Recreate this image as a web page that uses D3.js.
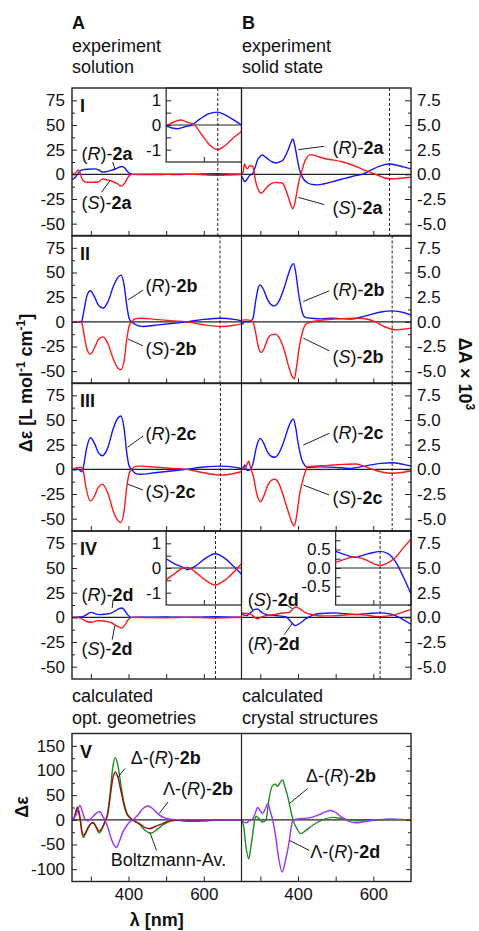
<!DOCTYPE html>
<html>
<head>
<meta charset="utf-8">
<script src="https://cdn.jsdelivr.net/npm/d3@7/dist/d3.min.js"></script>
<style>
body { margin: 0; background: #fff; }
svg text { font-family: "Liberation Sans", Arial, sans-serif; fill: #111; }
</style>
</head>
<body>
<svg id="chart" width="479" height="931"></svg>
<script>
//----------------------------- DATA -----------------------------//
// [wavelength nm, value]; column A = solution (Δε), column B = solid state (ΔA x 10^3)
const r1A = [[250,-5.4],[256,-4],[262,-1.5],[268,2],[274,4],[280,4.8],[292,5.2],[310,5.5],[322,4.2],[332,2.2],[342,2.8],[356,4.2],[370,6.2],[382,8],[390,6.5],[397,3],[403,1],[410,0],[440,-0.3],[480,-0.2],[500,-0.05],[515,-0.12],[531,-0.15],[548,-0.08],[568,0],[590,0.25],[612,0.45],[636,0.52],[655,0.42],[680,0.2],[700,0]];
const s1A = [[250,0],[258,1],[263,3],[267,4.5],[271,2],[275,-3],[280,-6.5],[288,-8],[300,-8],[318,-8],[326,-6],[332,-4.7],[342,-5.5],[356,-7],[370,-9.5],[381,-12],[390,-9],[397,-4],[403,-1],[410,0],[440,0.2],[480,0.1],[500,0],[520,0.12],[540,0.2],[558,0.1],[575,0],[595,-0.4],[615,-0.8],[636,-1.0],[655,-0.85],[680,-0.5],[700,-0.26]];
const r1B = [[250,-0.2],[253,-0.35],[258,-0.74],[263,-0.6],[268,-0.3],[274,-0.05],[280,0.1],[287,0.8],[293,1.5],[298,1.75],[305,1.96],[312,1.8],[322,1.5],[332,1.25],[342,1.15],[350,1.25],[359,1.4],[367,1.9],[375,2.6],[381,3.2],[386,3.58],[391,3.0],[397,1.8],[403,0.6],[408,0],[415,-0.5],[425,-0.85],[437,-1.02],[452,-1.07],[470,-0.95],[492,-0.74],[515,-0.5],[536,-0.3],[555,-0.1],[571,0],[590,0.35],[615,0.8],[642,1.05],[660,0.95],[680,0.75],[700,0.55]];
const s1B = [[250,0],[254,0.2],[258,1.05],[262,0.7],[266,0.55],[271,0.88],[276,0.85],[280,0.8],[284,0.1],[288,-0.8],[295,-1.6],[302,-1.92],[310,-1.65],[320,-1.2],[332,-0.9],[342,-0.81],[352,-0.85],[360,-0.95],[368,-1.6],[376,-2.5],[381,-3.1],[386,-3.5],[391,-3.0],[397,-1.8],[403,-0.6],[408,0],[415,1.0],[424,1.75],[434,2.0],[450,1.85],[470,1.6],[492,1.46],[515,1.3],[536,1.05],[560,0.7],[580,0.37],[606,0],[628,-0.35],[650,-0.47],[675,-0.4],[700,-0.3]];

const r2A = [[250,0],[265,0],[271,-0.5],[276,1],[282,12],[290,27],[299,31.5],[310,25],[322,16],[333,14],[345,20],[360,36],[372,45],[380,47.3],[388,38],[396,15],[402,3],[408,0],[420,-3],[439,-4.7],[470,-3.5],[520,-1.5],[554,0],[600,2.5],[646,3.7],[680,2.5],[700,1]];
const s2A = [[250,0],[265,0],[271,0.5],[276,-1],[282,-13],[290,-28],[299,-32.7],[310,-26],[322,-17],[333,-15.2],[345,-22],[360,-38],[372,-47],[380,-48.6],[388,-40],[396,-16],[402,-4],[408,0],[420,3.2],[435,3.7],[470,2.5],[520,1],[554,0],[600,-3],[646,-4.7],[680,-3.5],[700,-2]];
const r2B = [[250,-0.1],[253,-0.23],[258,0.05],[270,0],[280,0.3],[288,2.2],[295,3.5],[300,3.75],[308,3.3],[320,2.2],[330,1.7],[338,1.62],[348,2.0],[362,3.3],[375,4.9],[383,5.7],[388,5.9],[394,5.0],[401,3.0],[408,1.5],[415,0.6],[425,0.4],[435,0.37],[460,0.3],[492,0.37],[536,0.27],[580,0.6],[620,1.0],[650,1.11],[680,0.95],[700,0.68]];
const s2B = [[250,0.17],[262,0.2],[270,0.17],[280,0],[288,-1.2],[295,-2.6],[302,-3.1],[310,-2.7],[320,-1.7],[330,-1.3],[340,-1.25],[350,-1.6],[362,-2.7],[375,-4.5],[384,-5.5],[390,-5.8],[396,-4.6],[404,-2.4],[412,-1.0],[422,-0.2],[430,-0.07],[460,0.15],[492,0.27],[562,0.37],[606,0],[630,-0.5],[660,-0.81],[685,-0.72],[700,-0.64]];

const r3A = [[250,0],[258,-0.5],[265,0.5],[271,-1],[276,-2.4],[280,2],[288,20],[299,32],[310,26],[320,17],[331,13.8],[345,22],[360,42],[372,52],[380,54],[388,42],[396,15],[402,3],[408,0],[418,-4],[430,-5],[470,-3.5],[520,-1.5],[554,0],[600,2.3],[646,3.3],[680,2.2],[700,0.6]];
const s3A = [[250,0],[258,1],[265,2],[271,2],[276,2],[280,-2],[288,-20],[299,-32],[310,-27],[320,-18],[331,-15.2],[345,-24],[360,-43],[372,-52],[380,-54],[388,-43],[396,-16],[402,-4],[408,0],[420,3],[434,3.3],[470,2.2],[520,0.8],[554,0],[600,-3.5],[646,-5.8],[680,-4.2],[700,-2.4]];
const r3B = [[250,0],[255,0.2],[259,0.44],[264,-0.1],[271,-0.07],[280,0.5],[288,2.0],[295,2.9],[300,3.14],[308,2.7],[320,1.7],[330,1.3],[339,1.22],[350,1.7],[362,2.8],[375,4.3],[383,4.95],[388,5.07],[394,4.2],[401,2.5],[410,1.0],[418,0.4],[426,0.2],[460,0.25],[500,0.2],[536,0.1],[580,0.35],[620,0.6],[650,0.67],[680,0.5],[700,0.33]];
const s3B = [[250,0],[260,0.2],[266,0.6],[269,0.84],[273,0.3],[276,-0.07],[282,-0.8],[290,-2.4],[300,-3.3],[308,-2.8],[320,-1.6],[330,-1.1],[339,-1.0],[350,-1.5],[362,-2.8],[375,-4.4],[384,-5.4],[390,-5.75],[396,-4.8],[404,-2.6],[412,-1.2],[420,-0.2],[426,0.27],[480,0.4],[520,0.5],[554,0.54],[580,0.25],[598,0],[625,-0.3],[650,-0.4],[680,-0.3],[700,-0.17]];

const r4A = [[250,0],[270,0.3],[280,1],[289,2.7],[296,4.5],[302,5],[312,3.5],[324,2.7],[340,3.3],[352,4],[365,6.5],[375,8.8],[382,9.5],[390,7],[398,2.5],[408,0],[450,0.2],[500,0.37],[525,0.15],[549,0],[556,-0.07],[575,0.05],[605,0.4],[630,0.58],[655,0.4],[680,0.05],[700,-0.25]];
const s4A = [[250,0],[270,-0.5],[280,-2.4],[290,-4.5],[302,-5],[315,-3.6],[324,-3.4],[340,-4],[355,-5.5],[370,-9],[382,-10.8],[390,-8],[398,-3],[408,0],[450,-0.3],[500,-0.48],[525,-0.2],[545,0],[558,0.02],[580,-0.2],[605,-0.5],[630,-0.69],[655,-0.5],[680,-0.15],[700,0.17]];
const r4B = [[250,0.34],[262,0.17],[275,0.5],[285,0.8],[293,0.85],[300,0.6],[306,0.44],[320,0.25],[342,0.17],[368,0.04],[380,-0.4],[393,-0.84],[405,-0.6],[421,-0.13],[435,0.15],[448,0.34],[470,0.4],[500,0.45],[525,0.36],[549,0.29],[585,0.38],[618,0.45],[640,0.38],[660,0.15],[680,-0.25],[700,-0.7]];
const s4B = [[250,0.44],[262,0.4],[276,0.27],[285,0.0],[293,-0.16],[303,0.05],[315,0.17],[340,0.3],[359,0.44],[377,0.5],[388,0.9],[395,1.05],[405,0.85],[421,0.44],[440,0.25],[457,0.14],[480,0.15],[500,0.16],[525,0.24],[549,0.3],[580,0.22],[605,0.1],[618,0.07],[635,0.12],[660,0.3],[680,0.55],[700,0.78]];

// panel V: calculated Δε
const g5A = [[250,0],[256,5],[261,20],[264,26],[268,18],[272,0],[276,-25],[280,-36],[285,-30],[292,-18],[300,-8],[306,-6],[314,-15],[322,-27],[330,-18],[338,-3],[345,15],[352,60],[358,105],[365,126],[372,110],[380,70],[388,35],[395,15],[404,5],[415,-2],[430,-10],[445,-22],[460,-27],[475,-20],[492,-10],[510,-3],[530,-1],[560,-3],[600,-2],[640,-0.5],[700,0]];
const b5A = [[250,0],[256,5],[261,18],[264,23],[268,16],[272,0],[276,-22],[280,-31],[286,-26],[292,-16],[300,-8],[306,-6],[314,-14],[322,-23],[330,-16],[338,-3],[345,12],[352,50],[358,82],[365,97],[372,86],[380,58],[388,30],[395,13],[404,4],[415,-2],[430,-8],[445,-16],[455,-18],[470,-14],[492,-7],[510,-2],[530,-0.5],[560,-2],[600,-1.5],[640,-0.3],[700,0]];
const p5A = [[250,0],[255,3],[262,12],[271,29],[277,18],[284,2],[292,-2],[300,2],[312,12],[324,17],[331,8],[337,0],[345,-15],[355,-40],[362,-52],[368,-56],[375,-45],[385,-25],[395,-12],[405,-3],[412,0],[425,10],[440,24],[452,28],[465,22],[483,9],[500,3],[515,1],[540,0],[700,0]];
const g5B = [[250,0],[256,-15],[262,-55],[269,-79],[274,-60],[280,-28],[285,0],[289,7],[296,3],[306,-4.5],[315,-1],[320,25],[324,46],[333,70],[340,72],[346,68],[352,75],[359,81],[366,65],[375,40],[381,18],[386,2],[395,-15],[408,-28],[420,-22],[439,-11],[465,0],[492,5],[520,2],[560,-2],[600,-1],[650,0.5],[700,0]];
const p5B = [[250,0],[255,-4],[262,-6],[270,-2],[280,2],[287,15],[293,25],[300,18],[306,13],[313,22],[320,33],[326,18],[333,-1],[340,-30],[348,-75],[358,-106],[366,-85],[377,-42],[382,-15],[386,-1],[400,2],[430,4],[455,10],[472,16],[487,19],[500,15],[515,6],[527,0],[540,-4],[554,-6],[580,-3],[610,0],[642,2],[670,1],[700,0]];

// dashed marker wavelengths per panel [A, B]
const dashNm = [[637, 643], [643, 650], [644, 650], [631, 618]];

// ticks
const wlDomain = [250, 700];
const xTicks = [300, 400, 500, 600];
const xLabelTicks = [400, 600];
const deTicks = [-50, -25, 0, 25, 50, 75];
const deMinor = [-37.5, -12.5, 12.5, 37.5, 62.5];
const daTicks = [-5, -2.5, 0, 2.5, 5, 7.5];
const daMinor = [-3.75, -1.25, 1.25, 3.75, 6.25];
const vTicks = [-100, -50, 0, 50, 100, 150];
const vMinor = [-75, -25, 25, 75, 125];

//--------------------------- LAYOUT ---------------------------//
const font = '"Liberation Sans", Arial, sans-serif';
const blue = "#1414ff", red = "#ff1a1a", green = "#1e8c1e", dred = "#9b1010", purple = "#9b30ff";
const colA = [72, 241.5], colB = [241.5, 411];
const ph = 148;
const xA = d3.scaleLinear().domain(wlDomain).range(colA);
const xB = d3.scaleLinear().domain(wlDomain).range(colB);
const svg = d3.select("#chart");

const lineGen = (x, y) => d3.line().x(d => x(d[0])).y(d => y(d[1])).curve(d3.curveMonotoneX);
const fmtInt = d => String(d);
const fmt1 = d => d.toFixed(1);

// label helper: prefix, italic letter, bold compound
function lbl(letter, comp, prefix) {
    return [[(prefix || "") + "(", ""], [letter, "i"], [")-", ""], [comp, "b"]];
}

const panels = [
  {roman: "I", top: 88,
   A: {series: [[r1A, blue], [s1A, red]], labels: [
      {x: 275, y: 21, t: lbl("R", "2a"), lead: [[358, 12.5], [364, 5.5]]},
      {x: 275, y: -28.4, t: lbl("S", "2a"), lead: [[350.6, -6.4], [328.6, -18.2]]}]},
   B: {series: [[r1B, blue], [s1B, red]], labels: [
      {x: 491.7, y: 2.74, t: lbl("R", "2a"), lead: [[400.9, 2.5], [469.7, 2.84]]},
      {x: 491.7, y: -3.34, t: lbl("S", "2a"), lead: [[400.9, -2.33], [469.7, -3.07]]}]}},
  {roman: "II", top: 235.5,
   A: {series: [[r2A, blue], [s2A, red]], labels: [
      {x: 445, y: 36.5, t: lbl("R", "2b"), lead: [[399, 22.3], [438.7, 32.1]]},
      {x: 445, y: -27.7, t: lbl("S", "2b"), lead: [[399, -17.5], [438.7, -24.3]]}]},
   B: {series: [[r2B, blue], [s2B, red]], labels: [
      {x: 491.7, y: 3.21, t: lbl("R", "2b"), lead: [[414, 2.06], [483, 3.14]]},
      {x: 491.7, y: -3.55, t: lbl("S", "2b"), lead: [[414, -1.65], [483, -2.94]]}]}},
  {roman: "III", top: 383,
   A: {series: [[r3A, blue], [s3A, red]], labels: [
      {x: 445, y: 36.5, t: lbl("R", "2c"), lead: [[397.4, 22.3], [438.7, 33.7]]},
      {x: 445, y: -22.7, t: lbl("S", "2c"), lead: [[397.4, -14.9], [438.7, -21]]}]},
   B: {series: [[r3B, blue], [s3B, red]], labels: [
      {x: 491.7, y: 3.71, t: lbl("R", "2c"), lead: [[414, 2.46], [483, 3.65]]},
      {x: 491.7, y: -2.84, t: lbl("S", "2c"), lead: [[414, -1.59], [483, -2.6]]}]}},
  {roman: "IV", top: 531,
   A: {series: [[r4A, blue], [s4A, red]], labels: [
      {x: 275, y: 23, t: lbl("R", "2d"), lead: [[359, 17.9], [356.7, 9.5]]},
      {x: 275, y: -32, t: lbl("S", "2d"), lead: [[363.8, -8.4], [356.7, -22.6]]}]},
   B: {series: [[r4B, blue], [s4B, red]], labels: [
      {x: 266.7, y: 1.79, t: lbl("S", "2d"), lead: [[368.3, 1.29], [385.8, 0.85]]},
      {x: 266.7, y: -2.69, t: lbl("R", "2d"), lead: [[363.8, -1.75], [385.8, -0.57]]}]}}
];

const insets = [
  {panel: 0, col: "A", dom: [-1.5, 1.5], ticks: [-1, -0.5, 0, 0.5, 1], labels: [-1, 0, 1], fmt: fmtInt},
  {panel: 3, col: "A", dom: [-1.5, 1.5], ticks: [-1, -0.5, 0, 0.5, 1], labels: [-1, 0, 1], fmt: fmtInt},
  {panel: 3, col: "B", dom: [-1, 1], ticks: [-0.75, -0.5, -0.25, 0, 0.25, 0.5, 0.75], labels: [-0.5, 0, 0.5], fmt: fmt1}
];
const insetH = 74;

//--------------------------- HELPERS ---------------------------//
function styleAxis(g, size) {
    g.select(".domain").remove();
    g.attr("font-family", font).attr("font-size", size || 17);
    g.selectAll("line").attr("stroke", "#222").attr("stroke-width", 1);
    g.selectAll("text").attr("fill", "#111");
}

function richText(parent, x, y, parts, size) {
    const t = parent.append("text").attr("x", x).attr("y", y).attr("dy", "0.35em")
        .attr("font-size", size || 18);
    parts.forEach(p => {
        const s = t.append("tspan").text(p[0]);
        if (p[1] == "i") s.attr("font-style", "italic");
        if (p[1] == "b") s.attr("font-weight", "bold");
    });
    return t;
}

function drawLabels(g, labels, x, y) {
    labels.forEach(l => {
        g.append("line")
            .attr("x1", x(l.lead[0][0])).attr("y1", y(l.lead[0][1]))
            .attr("x2", x(l.lead[1][0])).attr("y2", y(l.lead[1][1]))
            .attr("stroke", "#222").attr("stroke-width", 1);
        richText(g, x(l.x), y(l.y), l.t);
    });
}

function clipRect(id, x0, y0, w, h) {
    svg.append("clipPath").attr("id", id).append("rect")
        .attr("x", x0).attr("y", y0).attr("width", w).attr("height", h);
}

function drawCurves(g, series, x, y, clip) {
    series.forEach(s => {
        g.append("path")
            .attr("clip-path", "url(#" + clip + ")")
            .attr("fill", "none")
            .attr("stroke", s[1])
            .attr("stroke-width", 1.4)
            .attr("stroke-linejoin", "round")
            .attr("d", lineGen(x, y)(s[0]));
    });
}

function bottomTicks(g, x, yPos, labelled) {
    const ax = g.append("g").attr("transform", "translate(0," + yPos + ")")
        .call(d3.axisBottom(x).tickValues(xTicks).tickSizeInner(-5).tickSizeOuter(0).tickPadding(6)
            .tickFormat(d => labelled && xLabelTicks.includes(d) ? d : ""));
    styleAxis(ax);
}

//---------------------------- PANELS I-IV ----------------------------//
const scalesA = [], scalesB = [];
panels.forEach((p, i) => {
    const yA = d3.scaleLinear().domain([-62.5, 87.5]).range([p.top + ph, p.top]);
    const yB = d3.scaleLinear().domain([-6.25, 8.75]).range([p.top + ph, p.top]);
    scalesA.push(yA); scalesB.push(yB);
    const g = svg.append("g");
    clipRect("clipA" + i, colA[0], p.top, colA[1] - colA[0], ph);
    clipRect("clipB" + i, colB[0], p.top, colB[1] - colB[0], ph);

    g.append("line").attr("x1", colA[0]).attr("x2", colB[1])
        .attr("y1", yA(0)).attr("y2", yA(0)).attr("stroke", "#222").attr("stroke-width", 1.1);
    drawCurves(g, p.A.series, xA, yA, "clipA" + i);
    drawCurves(g, p.B.series, xB, yB, "clipB" + i);
    drawLabels(g, p.A.labels, xA, yA);
    drawLabels(g, p.B.labels, xB, yB);

    g.append("text").attr("x", 80).attr("y", p.top + 24)
        .attr("font-size", 18).attr("font-weight", "bold").text(p.roman);

    // left axis
    const la = g.append("g").attr("transform", "translate(" + colA[0] + ",0)")
        .call(d3.axisLeft(yA).tickValues(deTicks).tickSizeInner(-5).tickSizeOuter(0).tickPadding(7).tickFormat(fmtInt));
    styleAxis(la);
    const lm = g.append("g").attr("transform", "translate(" + colA[0] + ",0)")
        .call(d3.axisLeft(yA).tickValues(deMinor).tickSizeInner(-3).tickSizeOuter(0).tickFormat(""));
    styleAxis(lm);
    // right axis
    const ra = g.append("g").attr("transform", "translate(" + colB[1] + ",0)")
        .call(d3.axisRight(yB).tickValues(daTicks).tickSizeInner(-6).tickSizeOuter(0).tickPadding(6).tickFormat(fmt1));
    styleAxis(ra);
    const rm = g.append("g").attr("transform", "translate(" + colB[1] + ",0)")
        .call(d3.axisRight(yB).tickValues(daMinor).tickSizeInner(-3).tickSizeOuter(0).tickFormat(""));
    styleAxis(rm);
    bottomTicks(g, xA, p.top + ph, false);
    bottomTicks(g, xB, p.top + ph, false);
});

//---------------------------- INSETS ----------------------------//
insets.forEach((ins, k) => {
    const p = panels[ins.panel];
    const x = ins.col == "A" ? xA : xB;
    const x0 = x(500), x1 = x(700);
    const yi = d3.scaleLinear().domain(ins.dom).range([p.top + insetH, p.top]);
    const g = svg.append("g");
    g.append("rect").attr("x", x0).attr("y", p.top).attr("width", x1 - x0).attr("height", insetH)
        .attr("fill", "#fff").attr("stroke", "#222").attr("stroke-width", 1.2);
    clipRect("clipIns" + k, x0, p.top, x1 - x0, insetH);
    g.append("line").attr("x1", x0).attr("x2", x1).attr("y1", yi(0)).attr("y2", yi(0))
        .attr("stroke", "#222").attr("stroke-width", 1.1);
    const series = p[ins.col].series.map(s => [s[0].filter(d => d[0] >= 480), s[1]]);
    drawCurves(g, series, x, yi, "clipIns" + k);
    const ax = g.append("g").attr("transform", "translate(" + x0 + ",0)")
        .call(d3.axisLeft(yi).tickValues(ins.ticks).tickSizeInner(-5).tickSizeOuter(0).tickPadding(5)
            .tickFormat(d => ins.labels.includes(d) ? ins.fmt(d) : ""));
    styleAxis(ax);
    const bx = g.append("g").attr("transform", "translate(0," + (p.top + insetH) + ")")
        .call(d3.axisBottom(x).tickValues([600]).tickSizeInner(-5).tickSizeOuter(0).tickFormat(""));
    styleAxis(bx);
});

// dashed markers and frames for I-IV
panels.forEach((p, i) => {
    [[xA, dashNm[i][0]], [xB, dashNm[i][1]]].forEach(d => {
        svg.append("line").attr("x1", d[0](d[1])).attr("x2", d[0](d[1]))
            .attr("y1", p.top).attr("y2", p.top + ph)
            .attr("stroke", "#222").attr("stroke-width", 1).attr("stroke-dasharray", "3,2");
    });
    svg.append("rect").attr("x", colA[0]).attr("y", p.top).attr("width", colB[1] - colA[0]).attr("height", ph)
        .attr("fill", "none").attr("stroke", "#222").attr("stroke-width", 1.4);
    svg.append("line").attr("x1", colA[1]).attr("x2", colA[1]).attr("y1", p.top).attr("y2", p.top + ph)
        .attr("stroke", "#222").attr("stroke-width", 1.2);
});

//---------------------------- PANEL V ----------------------------//
const vTop = 733.5;
const yV = d3.scaleLinear().domain([-125, 175]).range([vTop + ph, vTop]);
const gv = svg.append("g");
clipRect("clipVA", colA[0], vTop, colA[1] - colA[0], ph);
clipRect("clipVB", colB[0], vTop, colB[1] - colB[0], ph);
gv.append("line").attr("x1", colA[0]).attr("x2", colB[1]).attr("y1", yV(0)).attr("y2", yV(0))
    .attr("stroke", "#222").attr("stroke-width", 1.1);
drawCurves(gv, [[g5A, green], [b5A, dred], [p5A, purple]], xA, yV, "clipVA");
drawCurves(gv, [[g5B, green], [p5B, purple]], xB, yV, "clipVB");
drawLabels(gv, [
    {x: 406, y: 126, t: lbl("R", "2b", "Δ-"), lead: [[372.6, 86.8], [390.3, 103.9]]},
    {x: 491.7, y: 63.3, t: lbl("R", "2b", "Λ-"), lead: [[481, 12.6], [505, 36.1]]},
    {x: 353, y: -80.7, t: [["Boltzmann-Av.", ""]], lead: [[456.5, -24.7], [474.2, -61.9]]}
], xA, yV);
drawLabels(gv, [
    {x: 421.3, y: 90.3, t: lbl("R", "2b", "Δ-"), lead: [[376.9, 32.9], [425.5, 63.3]]},
    {x: 432.6, y: -65.3, t: lbl("R", "2d", "Λ-"), lead: [[376.9, -41.6], [429.8, -61.9]]}
], xB, yV);
gv.append("text").attr("x", 80).attr("y", vTop + 24)
    .attr("font-size", 18).attr("font-weight", "bold").text("V");

const va = gv.append("g").attr("transform", "translate(" + colA[0] + ",0)")
    .call(d3.axisLeft(yV).tickValues(vTicks).tickSizeInner(-5).tickSizeOuter(0).tickPadding(7).tickFormat(fmtInt));
styleAxis(va);
const vm = gv.append("g").attr("transform", "translate(" + colA[0] + ",0)")
    .call(d3.axisLeft(yV).tickValues(vMinor).tickSizeInner(-3).tickSizeOuter(0).tickFormat(""));
styleAxis(vm);
const vr = gv.append("g").attr("transform", "translate(" + colB[1] + ",0)")
    .call(d3.axisRight(yV).tickValues(vTicks).tickSizeInner(-5).tickSizeOuter(0).tickFormat(""));
styleAxis(vr);
const vrm = gv.append("g").attr("transform", "translate(" + colB[1] + ",0)")
    .call(d3.axisRight(yV).tickValues(vMinor).tickSizeInner(-3).tickSizeOuter(0).tickFormat(""));
styleAxis(vrm);
bottomTicks(gv, xA, vTop + ph, true);
bottomTicks(gv, xB, vTop + ph, true);
gv.append("rect").attr("x", colA[0]).attr("y", vTop).attr("width", colB[1] - colA[0]).attr("height", ph)
    .attr("fill", "none").attr("stroke", "#222").attr("stroke-width", 1.4);
gv.append("line").attr("x1", colA[1]).attr("x2", colA[1]).attr("y1", vTop).attr("y2", vTop + ph)
    .attr("stroke", "#222").attr("stroke-width", 1.2);

//---------------------------- TEXT ----------------------------//
const heads = [
    [colA[0], 29, "A", true], [colA[0], 51.5, "experiment"], [colA[0], 72.5, "solution"],
    [colB[0] + 0.5, 29, "B", true], [colB[0] + 0.5, 51.5, "experiment"], [colB[0] + 0.5, 72.5, "solid state"],
    [colA[0], 701.5, "calculated"], [colA[0], 723.5, "opt. geometries"],
    [colB[0] + 0.5, 701.5, "calculated"], [colB[0] + 0.5, 723.5, "crystal structures"]
];
heads.forEach(h => {
    svg.append("text").attr("x", h[0]).attr("y", h[1]).attr("font-size", 18)
        .attr("font-weight", h[3] ? "bold" : "normal").text(h[2]);
});

// y titles
const yt = svg.append("text").attr("transform", "translate(32,383) rotate(-90)")
    .attr("text-anchor", "middle").attr("font-size", 18).attr("font-weight", "bold");
yt.append("tspan").text("Δε [L mol");
yt.append("tspan").attr("dy", -7).attr("font-size", 12).text("-1");
yt.append("tspan").attr("dy", 7).text(" cm");
yt.append("tspan").attr("dy", -7).attr("font-size", 12).text("-1");
yt.append("tspan").attr("dy", 7).text("]");

const rt = svg.append("text").attr("transform", "translate(459,374) rotate(90)")
    .attr("text-anchor", "middle").attr("font-size", 18).attr("font-weight", "bold");
rt.append("tspan").text("ΔA × 10");
rt.append("tspan").attr("dy", -7).attr("font-size", 12).text("3");

svg.append("text").attr("transform", "translate(28,807) rotate(-90)")
    .attr("text-anchor", "middle").attr("font-size", 18).attr("font-weight", "bold").text("Δε");
svg.append("text").attr("x", (colA[0] + colA[1]) / 2).attr("y", 926)
    .attr("text-anchor", "middle").attr("font-size", 18).attr("font-weight", "bold").text("λ [nm]");
</script>
</body>
</html>
